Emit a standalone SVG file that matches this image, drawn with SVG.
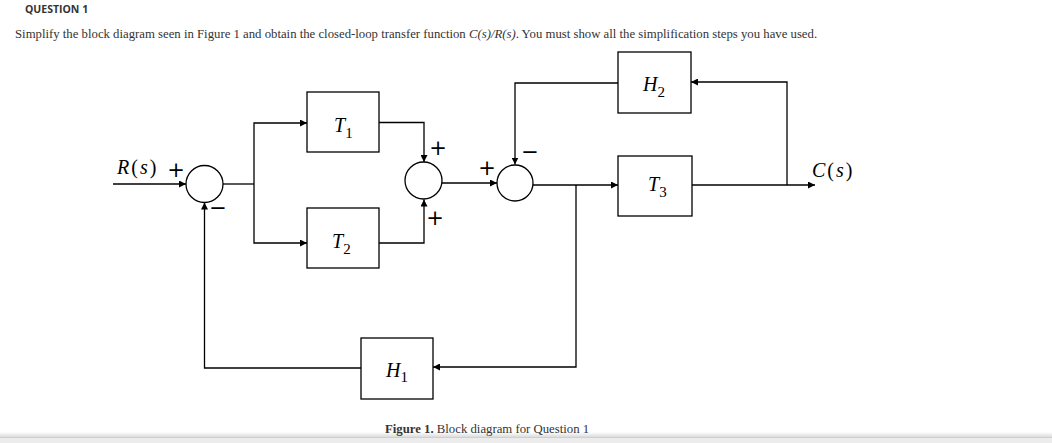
<svg xmlns="http://www.w3.org/2000/svg" width="1052" height="443" viewBox="0 0 1052 443">
<defs>
<marker id="arr" viewBox="0 0 10 10" refX="10" refY="5" markerWidth="7" markerHeight="7" markerUnits="userSpaceOnUse" orient="auto">
<path d="M0,0 L10,5 L0,10 z" fill="#000"/>
</marker>
<linearGradient id="shade" x1="0" y1="0" x2="0" y2="1">
<stop offset="0" stop-color="#ffffff"/>
<stop offset="1" stop-color="#dcdcdc"/>
</linearGradient>
</defs>
<style>
.box{fill:#fff;stroke:#000;stroke-width:1.3}
.sum{fill:#fff;stroke:#000;stroke-width:1.3}
.wire{fill:none;stroke:#000;stroke-width:1.3}
.math{font-family:"Liberation Serif","DejaVu Serif",serif;font-size:20px;font-style:italic;fill:#000}
.sub{font-style:normal;font-size:15px}
.up{font-style:normal}
.sign{font-family:"DejaVu Sans","Liberation Sans",sans-serif;font-size:21px;fill:#000;text-anchor:middle}
.body{font-family:"Liberation Serif",serif;font-size:12.75px;fill:#333}
.head{font-family:"Open Sans","Liberation Sans",sans-serif;font-size:10.5px;font-weight:bold;fill:#333}
</style>
<rect width="1052" height="443" fill="#fff"/>
<rect x="0" y="432" width="1052" height="5" fill="url(#shade)"/>
<rect x="0" y="437" width="1052" height="1" fill="#cfcfcf"/>
<rect x="0" y="438" width="1052" height="5" fill="#ececec"/>

<text class="head" x="25" y="13">QUESTION 1</text>
<text class="body" x="15" y="38">Simplify the block diagram seen in Figure 1 and obtain the closed-loop transfer function <tspan font-style="italic">C(s)/R(s)</tspan>. You must show all the simplification steps you have used.</text>

<g id="connectors">
<path class="wire" d="M113,184 H186" marker-end="url(#arr)"/>
<path class="wire" d="M223,184 H254"/>
<path class="wire" d="M254,184 V123 H307" marker-end="url(#arr)"/>
<path class="wire" d="M254,184 V243 H307" marker-end="url(#arr)"/>
<path class="wire" d="M379,122.5 H424 V162" marker-end="url(#arr)"/>
<path class="wire" d="M379,243 H424 V199.5" marker-end="url(#arr)"/>
<path class="wire" d="M442,183 H497" marker-end="url(#arr)"/>
<path class="wire" d="M533,185 H618" marker-end="url(#arr)"/>
<path class="wire" d="M692,185 H815" marker-end="url(#arr)"/>
<path class="wire" d="M787,185 V82 H691" marker-end="url(#arr)"/>
<path class="wire" d="M618,83 H515 V164.5" marker-end="url(#arr)"/>
<path class="wire" d="M576,185 V367 H433" marker-end="url(#arr)"/>
<path class="wire" d="M361,368 H204.5 V202.5" marker-end="url(#arr)"/>
</g>

<g id="sum1">
<circle class="sum" cx="204.5" cy="184" r="18.5"/>
<text class="sign" x="176" y="177">+</text>
<text class="sign" x="218" y="215">−</text>
</g>
<g id="sum2">
<circle class="sum" cx="423.5" cy="180.5" r="18.5"/>
<text class="sign" x="438" y="155">+</text>
<text class="sign" x="435" y="225">+</text>
</g>
<g id="sum3">
<circle class="sum" cx="515" cy="183" r="18"/>
<text class="sign" x="487" y="175">+</text>
<text class="sign" x="530" y="159">−</text>
</g>

<g id="T1">
<rect class="box" x="307" y="92" width="72" height="60"/>
<text class="math" x="334" y="132">T<tspan class="sub" dy="6">1</tspan></text>
</g>
<g id="T2">
<rect class="box" x="307" y="208" width="72" height="60"/>
<text class="math" x="332" y="248">T<tspan class="sub" dy="6">2</tspan></text>
</g>
<g id="T3">
<rect class="box" x="618" y="156" width="74" height="60"/>
<text class="math" x="648" y="191">T<tspan class="sub" dy="6">3</tspan></text>
</g>
<g id="H2">
<rect class="box" x="618" y="52" width="73" height="61"/>
<text class="math" x="643" y="91">H<tspan class="sub" dy="6">2</tspan></text>
</g>
<g id="H1">
<rect class="box" x="361" y="338" width="72" height="61"/>
<text class="math" x="386" y="377">H<tspan class="sub" dy="5">1</tspan></text>
</g>

<g id="labels">
<text class="math" x="117" y="174" letter-spacing="2">R<tspan class="up">(</tspan>s<tspan class="up">)</tspan></text>
<text class="math" x="812" y="177" letter-spacing="2">C<tspan class="up">(</tspan>s<tspan class="up">)</tspan></text>
</g>

<text class="body" x="385" y="433" font-size="12.4"><tspan font-weight="bold">Figure 1.</tspan> Block diagram for Question 1</text>
</svg>
